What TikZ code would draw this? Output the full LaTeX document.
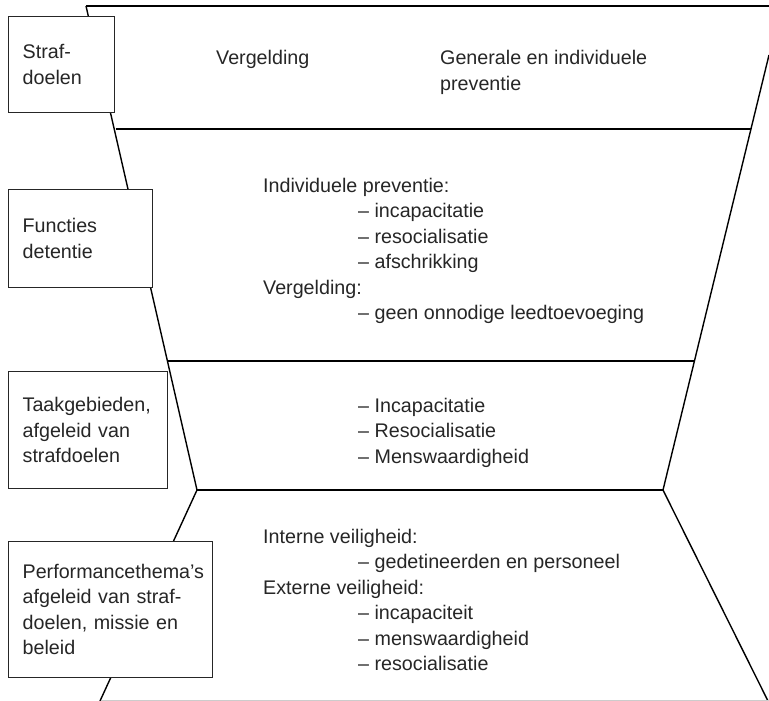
\documentclass[tikz,border=0pt]{standalone}
\usepackage{fontspec}
\setmainfont{Liberation Sans}
\begin{document}
\begin{tikzpicture}[x=1pt,y=-1pt,
    edge/.style={line width=1.4pt},
    lbl/.style={draw=black!85,fill=white,line width=1.3pt,anchor=north west,inner xsep=14pt,inner ysep=0pt,align=left,text=black!85,execute at begin node={\hyphenpenalty10000\relax}},
    txt/.style={anchor=base west,inner sep=0pt,align=left,text=black!85}]
    \fontsize{19.7}{25.5}\selectfont
    \useasboundingbox (0,0) rectangle (769,701);

    % outline of the funnel
    \coordinate (tl) at (86,6);
    \coordinate (tr) at (769,6);
    \coordinate (rt) at (769,55);
    \coordinate (lm) at (197,490);
    \coordinate (rm) at (663,490);
    \coordinate (lb) at (100,701);
    \coordinate (rb) at (768,701);
    \coordinate (l1) at (115.5,129);
    \coordinate (r1) at (751,129);
    \coordinate (l2) at (167.5,361);
    \coordinate (r2) at (694,361);
    \coordinate (gl) at (100.5,700);
    \coordinate (gr) at (769,700);

    \draw[edge] (tl) -- (tr);
    \draw[edge] (tl) -- (lm) -- (lb);
    \draw[edge] (rt) -- (rm) -- (rb);
    \draw[edge] (l1) -- (r1);
    \draw[edge] (l2) -- (r2);
    \draw[edge] (lm) -- (rm);
    \draw[black!20, line width=1pt] (gl) -- (gr);

    % texts in the bands (base = last line)
    \node[txt] (verg) at (216,65) {Vergelding};
    \node[txt] (prev) at (440,90.5) {Generale en individuele\\preventie};
    \node[txt] (func) at (263,319.5) {Individuele preventie:\\
        \hspace*{95pt}– incapacitatie\\
        \hspace*{95pt}– resocialisatie\\
        \hspace*{95pt}– afschrikking\\
        Vergelding:\\
        \hspace*{95pt}– geen onnodige leedtoevoeging};
    \node[txt] (taak) at (358,463) {– Incapacitatie\\– Resocialisatie\\– Menswaardigheid};
    \node[txt] (perf) at (263,670.5) {Interne veiligheid:\\
        \hspace*{95pt}– gedetineerden en personeel\\
        Externe veiligheid:\\
        \hspace*{95pt}– incapaciteit\\
        \hspace*{95pt}– menswaardigheid\\
        \hspace*{95pt}– resocialisatie};

    % labels on the left
    \node[lbl, text width=78pt, minimum height=96pt] (b1) at (8,16) {Straf-\\doelen};
    \node[lbl, text width=116pt, minimum height=98pt] (b2) at (8,189) {Functies\\detentie};
    \node[lbl, text width=131pt, minimum height=117pt] (b3) at (8,371) {Taakgebieden,\\afgeleid van\\strafdoelen};
    \node[lbl, text width=176pt, minimum height=136pt] (b4) at (8,541) {Performancethema’s\\afgeleid van straf-\\doelen, missie en\\beleid};
\end{tikzpicture}
\end{document}
